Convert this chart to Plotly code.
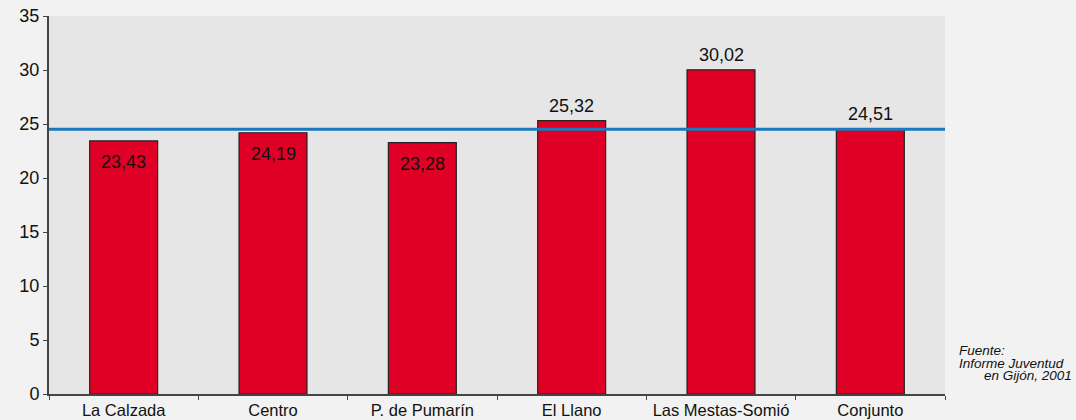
import plotly.graph_objects as go

categories = ["La Calzada", "Centro", "P. de Pumarín", "El Llano", "Las Mestas-Somió", "Conjunto"]
values = [23.43, 24.19, 23.28, 25.32, 30.02, 24.51]
reference_value = 24.51  # Conjunto
y_ticks = [0, 5, 10, 15, 20, 25, 30, 35]
source_lines = ["Fuente:", "Informe Juventud", "en Gijón, 2001"]

FONT = "Liberation Sans, Arial, sans-serif"

fig = go.Figure()
fig.add_trace(go.Bar(
    x=categories, y=values,
    marker=dict(color="#e00025", line=dict(color="#222222", width=1.2)),
    width=0.455, hoverinfo="skip",
))

fig.add_shape(type="line", xref="paper", yref="y", x0=0, x1=1,
              y0=reference_value, y1=reference_value,
              line=dict(color="#1878c0", width=3))

def fmt(v):
    return f"{v:.2f}".replace(".", ",")

for c, v in zip(categories, values):
    inside = v < reference_value
    fig.add_annotation(x=c, y=v, text=fmt(v), showarrow=False,
                       yanchor="middle", yshift=-21 if inside else 15,
                       font=dict(family=FONT, size=18, color="#111111"))

src_font = dict(family=FONT, size=13.5, color="#111111", style="italic")
fig.add_annotation(xref="paper", yref="paper", x=1.0134, y=0.1138, text=source_lines[0],
                   showarrow=False, xanchor="left", yanchor="middle", font=src_font)
fig.add_annotation(xref="paper", yref="paper", x=1.0134, y=0.082, text=source_lines[1],
                   showarrow=False, xanchor="left", yanchor="middle", font=src_font)
fig.add_annotation(xref="paper", yref="paper", x=1.1445, y=0.050, text=source_lines[2],
                   showarrow=False, xanchor="right", yanchor="middle", font=src_font)

fig.update_layout(
    width=1076, height=420,
    margin=dict(l=49, r=131, t=16, b=26, autoexpand=False),
    paper_bgcolor="#f2f2f2", plot_bgcolor="#e6e6e6",
    showlegend=False,
    font=dict(family=FONT, size=17, color="#111111"),
    xaxis=dict(showgrid=False, showline=True, linecolor="#444444", linewidth=2,
               ticks="outside", tickson="boundaries", ticklen=4, tickcolor="#444444",
               tickangle=0, tickfont=dict(size=16.5), automargin=False, fixedrange=True),
    yaxis=dict(range=[0, 35], tickvals=y_ticks, showgrid=False, zeroline=False,
               showline=True, linecolor="#444444", linewidth=2,
               ticks="outside", ticklen=4, tickcolor="#444444",
               tickfont=dict(size=18), automargin=False, fixedrange=True),
)

fig.write_html("out.html", config={"displayModeBar": False},
               post_script="document.body.style.margin='0';document.body.style.overflow='hidden';")
